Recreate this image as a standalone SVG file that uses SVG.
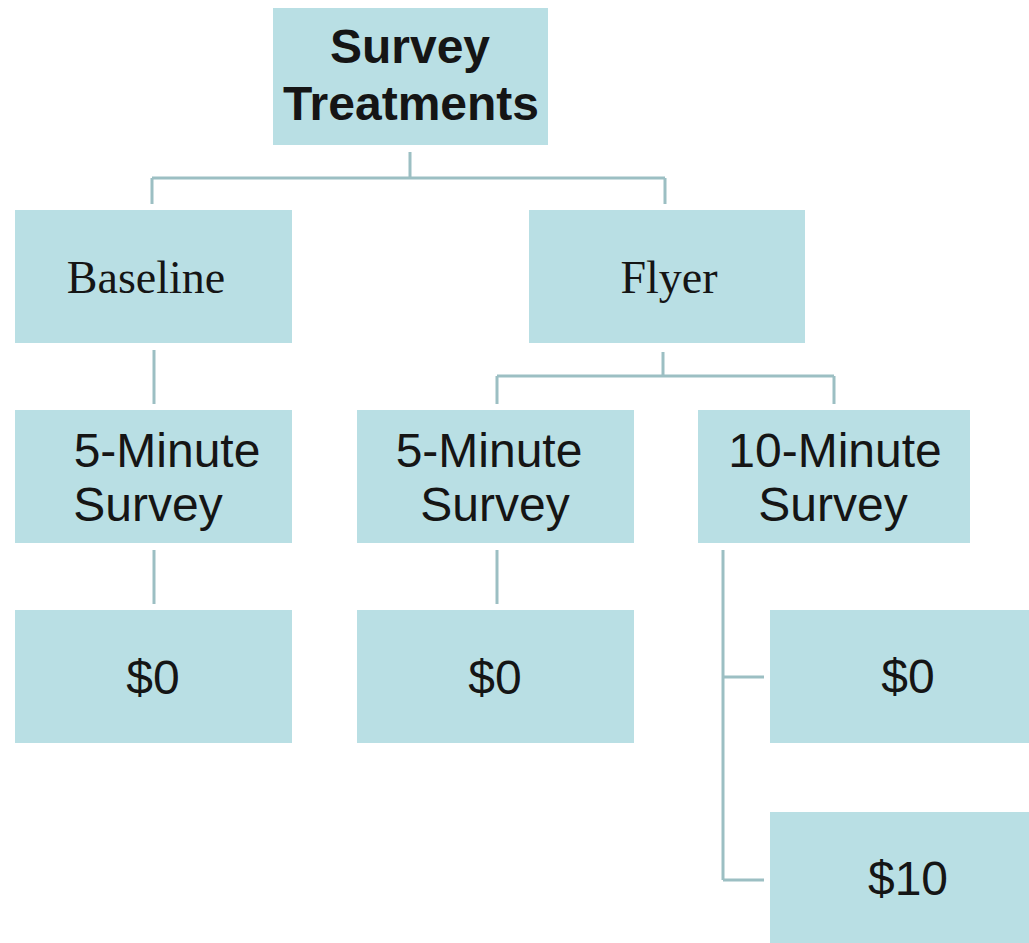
<svg xmlns="http://www.w3.org/2000/svg" width="1029" height="943" viewBox="0 0 1029 943">
<style>
.box{fill:#b9dfe4;}
.c{stroke:#9cbfc3;stroke-width:3;fill:none;}
.s{font-family:"Liberation Sans",Arial,sans-serif;font-size:48px;fill:#151515;text-anchor:middle;}
.b{font-weight:bold;}
.t{font-family:"Liberation Serif","Times New Roman",serif;font-size:46px;fill:#151515;text-anchor:middle;}
</style>
<rect width="1029" height="943" fill="#ffffff"/>
<g id="connectors">
<path class="c" d="M410 152V178M152 178H665M152 178V204M665 178V204"/>
<path class="c" d="M154 350V404"/>
<path class="c" d="M154 550V604"/>
<path class="c" d="M663 352V376M497 376H834M497 376V404M834 376V404"/>
<path class="c" d="M497 550V604"/>
<path class="c" d="M723 550V880M723 677H764M723 880H764"/>
</g>
<g id="n-root"><rect class="box" x="273" y="8" width="275" height="137"/><text class="s b" x="410" y="63">Survey</text><text class="s b" x="411" y="120">Treatments</text></g>
<g id="n-baseline"><rect class="box" x="15" y="210" width="277" height="133"/><text class="t" x="146" y="293">Baseline</text></g>
<g id="n-flyer"><rect class="box" x="529" y="210" width="276" height="133"/><text class="t" x="669" y="293">Flyer</text></g>
<g id="n-b5"><rect class="box" x="15" y="410" width="277" height="133"/><text class="s" x="167" y="467">5-Minute</text><text class="s" x="148" y="521">Survey</text></g>
<g id="n-f5"><rect class="box" x="357" y="410" width="277" height="133"/><text class="s" x="489" y="467">5-Minute</text><text class="s" x="495" y="521">Survey</text></g>
<g id="n-f10"><rect class="box" x="698" y="410" width="272" height="133"/><text class="s" x="835" y="467">10-Minute</text><text class="s" x="833" y="521">Survey</text></g>
<g id="n-b5-0"><rect class="box" x="15" y="610" width="277" height="133"/><text class="s" x="153" y="694">$0</text></g>
<g id="n-f5-0"><rect class="box" x="357" y="610" width="277" height="133"/><text class="s" x="495" y="694">$0</text></g>
<g id="n-f10-0"><rect class="box" x="770" y="610" width="277" height="133"/><text class="s" x="908" y="693">$0</text></g>
<g id="n-f10-10"><rect class="box" x="770" y="812" width="277" height="135"/><text class="s" x="908" y="895">$10</text></g>
</svg>
